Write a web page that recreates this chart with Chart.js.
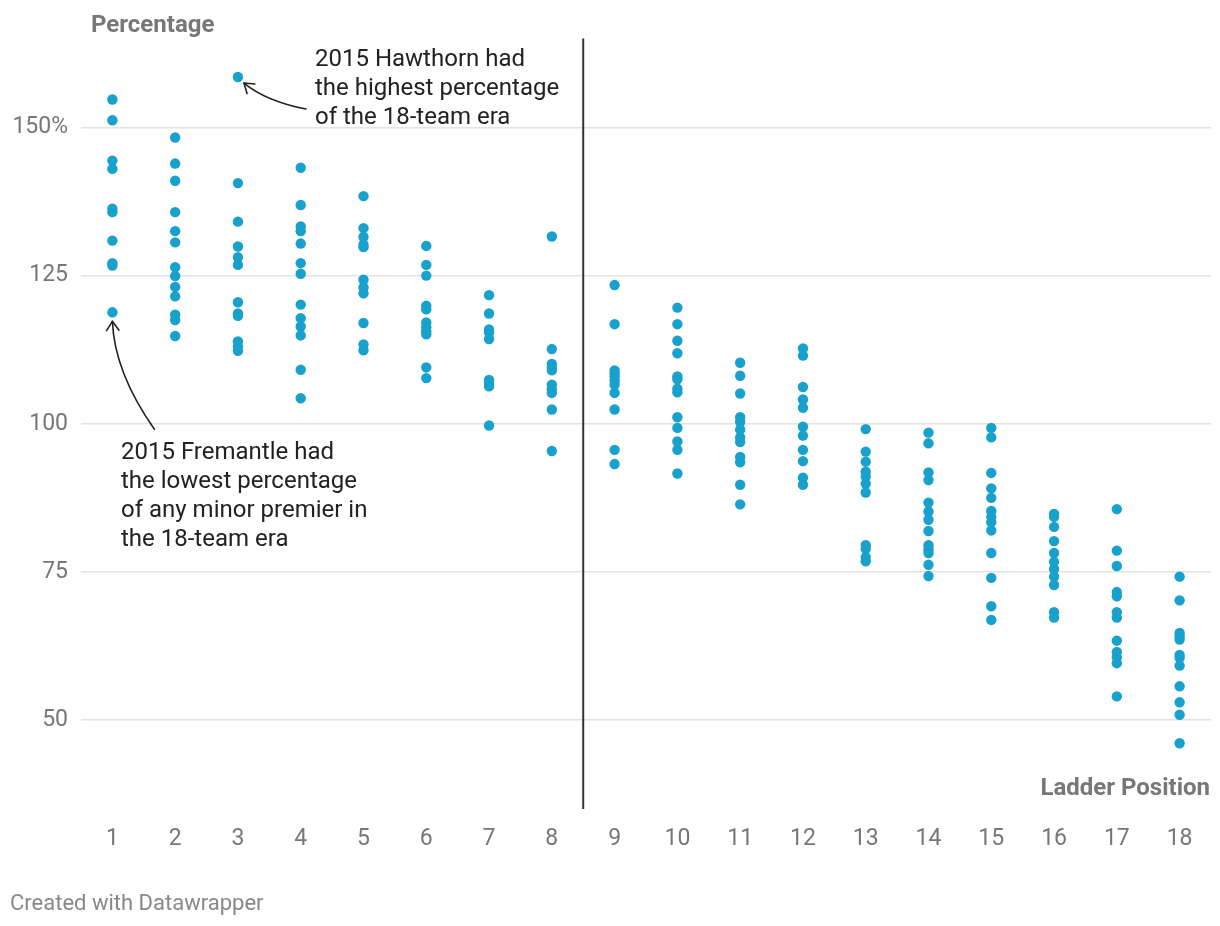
<!DOCTYPE html>
<html>
<head>
<meta charset="utf-8">
<script src="https://cdn.jsdelivr.net/npm/chart.js@4"></script>
<style>
  body { margin: 0; background: #fff; font-family: Roboto, sans-serif; }
  #wrap { position: relative; width: 1220px; height: 926px; }
  .txt { position: absolute; white-space: nowrap; }
  .note { font-size: 24px; line-height: 29px; color: #222; }
  .axis-title { font-size: 24px; line-height: 28px; font-weight: bold; color: #777; }
  #footer { left: 10px; top: 889.5px; font-size: 22px; line-height: 26px; color: #888; }
</style>
</head>
<body>
<div id="wrap">
  <canvas id="chart"></canvas>
  <div class="txt axis-title" style="left:91px; top:9.5px;">Percentage</div>
  <div class="txt axis-title" style="right:10px; top:773px;">Ladder Position</div>
  <div class="txt note" style="left:315px; top:43.8px;">2015 Hawthorn had<br>the highest percentage<br>of the 18-team era</div>
  <div class="txt note" style="left:121px; top:436.6px;">2015 Fremantle had<br>the lowest percentage<br>of any minor premier in<br>the 18-team era</div>
  <div class="txt" id="footer">Created with Datawrapper</div>
</div>
<script>
// percentage by final ladder position, one value per season
const pos01 = [154.7, 151.2, 144.4, 143.0, 136.3, 135.7, 130.9, 127.1, 126.7, 118.8];
const pos02 = [148.3, 143.9, 141.0, 135.7, 132.5, 130.6, 126.4, 124.9, 123.1, 121.5, 118.4, 117.5, 114.8];
const pos03 = [158.5, 140.6, 134.1, 129.9, 128.1, 126.8, 120.5, 118.6, 118.2, 113.9, 113.0, 112.3];
const pos04 = [143.2, 136.9, 133.3, 132.5, 130.4, 127.1, 125.3, 120.1, 117.8, 116.4, 114.9, 109.1, 104.3];
const pos05 = [138.4, 133.0, 131.5, 130.2, 129.8, 124.3, 123.0, 122.0, 117.0, 113.4, 112.4];
const pos06 = [130.0, 126.8, 125.0, 119.9, 119.3, 117.1, 116.3, 115.6, 115.1, 109.5, 107.7];
const pos07 = [121.7, 118.6, 115.9, 115.4, 114.3, 107.4, 106.9, 106.3, 99.7];
const pos08 = [131.6, 112.6, 110.1, 109.5, 109.0, 106.6, 105.8, 105.2, 102.4, 95.4];
const pos09 = [123.4, 116.8, 109.0, 108.5, 108.0, 107.3, 106.6, 105.2, 102.4, 95.6, 93.2];
const pos10 = [119.6, 116.8, 114.0, 111.9, 108.0, 107.5, 105.9, 105.3, 101.1, 99.3, 97.0, 95.6, 91.6];
const pos11 = [110.3, 108.1, 105.1, 101.1, 100.3, 99.0, 97.7, 96.9, 94.4, 93.5, 89.7, 86.4];
const pos12 = [112.7, 111.5, 106.2, 104.1, 102.7, 99.5, 98.0, 95.6, 93.7, 90.9, 89.7];
const pos13 = [99.1, 95.3, 93.6, 91.9, 91.1, 89.9, 88.4, 79.5, 78.9, 77.5, 76.8];
const pos14 = [98.5, 96.7, 91.8, 90.5, 86.7, 85.2, 83.8, 81.9, 79.5, 78.8, 78.2, 76.2, 74.3];
const pos15 = [99.3, 97.7, 91.7, 89.1, 87.5, 85.3, 84.3, 83.4, 82.0, 78.2, 74.0, 69.2, 66.9];
const pos16 = [84.8, 84.3, 82.6, 80.2, 78.2, 76.7, 75.5, 74.2, 72.8, 68.2, 67.3];
const pos17 = [85.6, 78.6, 76.0, 71.6, 70.9, 68.2, 67.3, 63.4, 61.5, 60.6, 59.6, 54.0];
const pos18 = [74.2, 70.2, 64.7, 64.2, 63.6, 61.0, 60.5, 59.2, 55.7, 53.0, 50.9, 46.1];

const ladderPositions = [1, 2, 3, 4, 5, 6, 7, 8, 9, 10, 11, 12, 13, 14, 15, 16, 17, 18];
const percentagesByPosition = [pos01, pos02, pos03, pos04, pos05, pos06, pos07, pos08, pos09,
  pos10, pos11, pos12, pos13, pos14, pos15, pos16, pos17, pos18];
const yTickValues = [50, 75, 100, 125, 150];
const finalsCutoff = 8.5;

// annotated points
const hawthorn = { x: 3, y: 158.5 };
const fremantle = { x: 1, y: 118.8 };

let points = [];
for (let i = 0; i < ladderPositions.length; i++) {
  percentagesByPosition[i].forEach(v => points.push({ x: ladderPositions[i], y: v }));
}

function arrow(ctx, x0, y0, cx, cy, x1, y1) {
  ctx.beginPath();
  ctx.moveTo(x0, y0);
  ctx.quadraticCurveTo(cx, cy, x1, y1);
  ctx.stroke();
  let a = Math.atan2(y1 - cy, x1 - cx);
  let len = 11;
  ctx.beginPath();
  ctx.moveTo(x1 - len * Math.cos(a - 0.6), y1 - len * Math.sin(a - 0.6));
  ctx.lineTo(x1, y1);
  ctx.lineTo(x1 - len * Math.cos(a + 0.6), y1 - len * Math.sin(a + 0.6));
  ctx.stroke();
}

const extras = {
  id: 'extras',
  afterDatasetsDraw(chart) {
    const ctx = chart.ctx;
    const x = chart.scales.x, y = chart.scales.y;
    const area = chart.chartArea;
    ctx.save();
    // finals line
    let px = x.getPixelForValue(finalsCutoff);
    ctx.strokeStyle = '#333';
    ctx.lineWidth = 2;
    ctx.beginPath();
    ctx.moveTo(px, area.top);
    ctx.lineTo(px, area.bottom);
    ctx.stroke();

    ctx.strokeStyle = '#222';
    ctx.lineWidth = 1.6;
    ctx.lineJoin = 'round';
    ctx.lineCap = 'round';
    let hx = x.getPixelForValue(hawthorn.x), hy = y.getPixelForValue(hawthorn.y);
    arrow(ctx, hx + 68, hy + 32, hx + 28, hy + 24, hx + 6, hy + 6);
    let fx = x.getPixelForValue(fremantle.x), fy = y.getPixelForValue(fremantle.y);
    arrow(ctx, fx + 42, fy + 117, fx + 2, fy + 60, fx, fy + 9);
    ctx.restore();
  }
};

new Chart(document.getElementById('chart'), {
  type: 'scatter',
  data: {
    datasets: [{
      data: points,
      backgroundColor: '#18a1cd',
      borderWidth: 0,
      pointRadius: 5.2,
      pointHoverRadius: 5.2
    }]
  },
  options: {
    responsive: true,
    maintainAspectRatio: false,
    animation: false,
    layout: { padding: { top: 38.5, right: 9, left: 0, bottom: 0 } },
    plugins: { legend: { display: false }, tooltip: { enabled: false } },
    scales: {
      x: {
        type: 'linear',
        min: 0.5,
        max: 18.5,
        afterBuildTicks: s => { s.ticks = ladderPositions.map(v => ({ value: v })); },
        afterFit: s => { s.height = 117; },
        grid: { display: false, drawTicks: false },
        border: { display: false },
        ticks: { color: '#777', font: { family: 'Roboto', size: 23 }, padding: 16, maxRotation: 0, autoSkip: false }
      },
      y: {
        min: 35,
        max: 165,
        afterBuildTicks: s => { s.ticks = yTickValues.map(v => ({ value: v })); },
        afterFit: s => { s.width = 81; },
        grid: { color: '#e3e3e3', lineWidth: 1.5, drawTicks: false },
        border: { display: false },
        ticks: {
          color: '#777',
          font: { family: 'Roboto', size: 23 },
          padding: 13,
          callback: v => v === 150 ? '150%' : v
        }
      }
    }
  },
  plugins: [extras]
});
</script>
</body>
</html>
